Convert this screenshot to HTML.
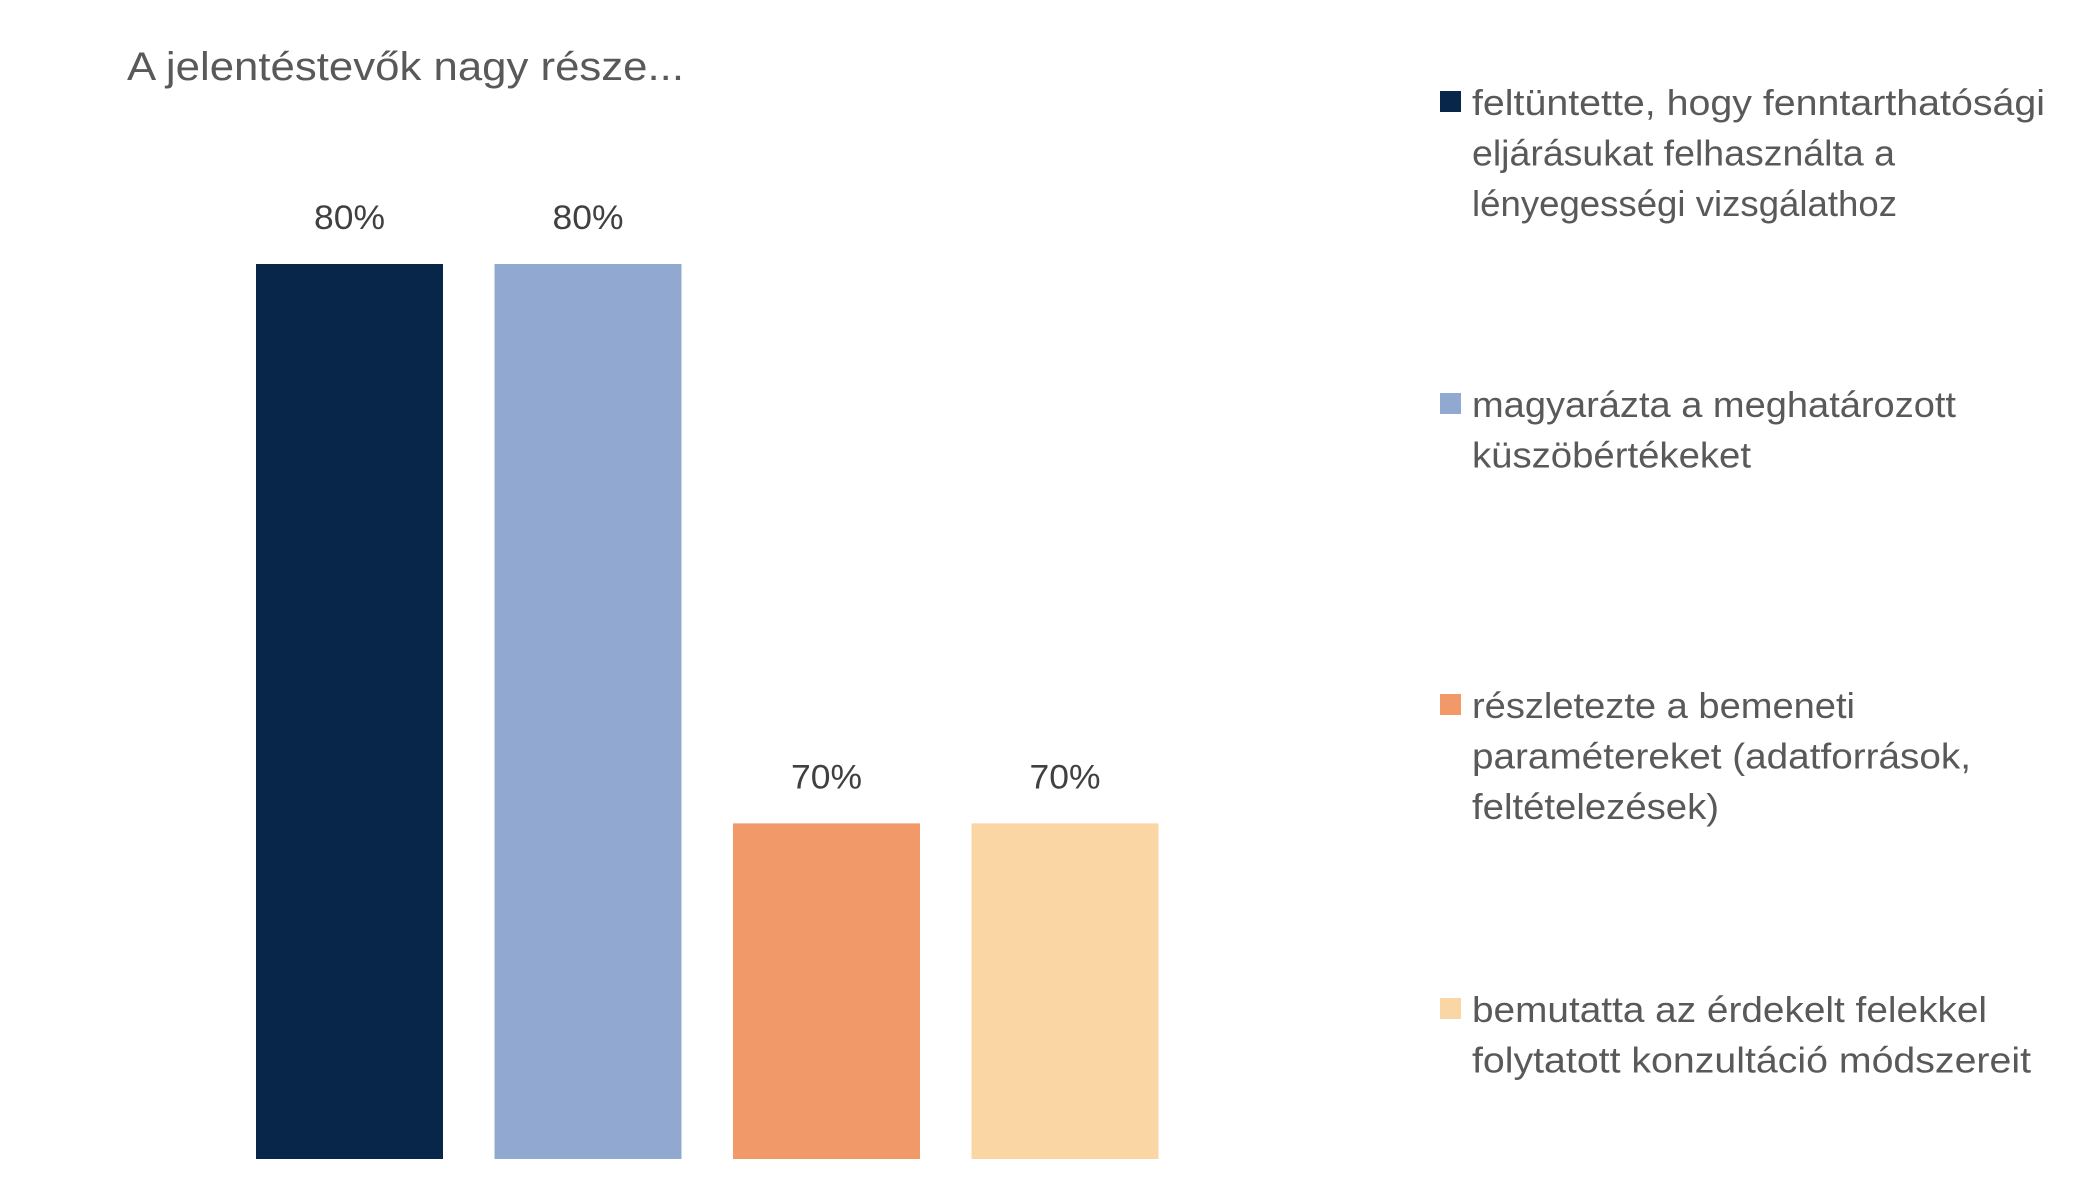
<!DOCTYPE html>
<html><head><meta charset="utf-8"><style>
html,body{margin:0;padding:0;background:#fff;}
svg{display:block;font-family:"Liberation Sans",sans-serif;}
</style></head><body>
<svg id="chart" width="2079" height="1204">
<text x="127" y="80" font-size="40" fill="#595959" textLength="557" lengthAdjust="spacingAndGlyphs">A jelentéstevők nagy része...</text>
<g id="bars"></g>
<g id="legend"></g>
</svg>
<script>
const categories = ["feltüntette, hogy fenntarthatósági eljárásukat felhasználta a lényegességi vizsgálathoz","magyarázta a meghatározott küszöbértékeket","részletezte a bemeneti paraméterek (adatforrások, feltételezések)","bemutatta az érdekelt felekkel folytatott konzultáció módszereit"];
const values = [0.80, 0.80, 0.70, 0.70];
const valueLabels = ["80%","80%","70%","70%"];
const legendLines = [["feltüntette, hogy fenntarthatósági","eljárásukat felhasználta a","lényegességi vizsgálathoz"],["magyarázta a meghatározott","küszöbértékeket"],["részletezte a bemeneti","paramétereket (adatforrások,","feltételezések)"],["bemutatta az érdekelt felekkel","folytatott konzultáció módszereit"]];
const colors = ["#08264a","#91a8d0","#f2996a","#fad6a5"];

const NS="http://www.w3.org/2000/svg";
const yMin=0.64, yMax=0.80, pxTop=264, pxBase=1159;
function y(v){return pxBase-(v-yMin)/(yMax-yMin)*(pxBase-pxTop);}
const x0=256, step=238.5, bw=187;
function x(i){return x0+i*step;}
const bars=document.getElementById('bars');
values.forEach((v,i)=>{
  const r=document.createElementNS(NS,'rect');
  r.setAttribute('x',x(i));r.setAttribute('y',y(v));
  r.setAttribute('width',bw);r.setAttribute('height',pxBase-y(v));
  r.setAttribute('fill',colors[i]);
  
  
  bars.appendChild(r);
  const t=document.createElementNS(NS,'text');
  t.setAttribute('x',x(i)+bw/2);t.setAttribute('y',y(v)-35);
  t.setAttribute('text-anchor','middle');t.setAttribute('font-size','34');
  t.setAttribute('fill','#404040');
  t.setAttribute('textLength','71');t.setAttribute('lengthAdjust','spacingAndGlyphs');
  t.textContent=valueLabels[i];
  
  
  bars.appendChild(t);
});
const lg=document.getElementById('legend');
const entryTop=[101,403,704,1008];
const widths=[[573,423,425],[484,279],[383,499,247],[515,559]];
legendLines.forEach((lines,i)=>{
  const g=document.createElementNS(NS,'g');
  
  
  const s=document.createElementNS(NS,'rect');
  s.setAttribute('x',1440);s.setAttribute('y',entryTop[i]-10);
  s.setAttribute('width',21);s.setAttribute('height',21);s.setAttribute('fill',colors[i]);
  
  
  g.appendChild(s);
  lines.forEach((ln,j)=>{
    const t=document.createElementNS(NS,'text');
    t.setAttribute('x',1472);t.setAttribute('y',entryTop[i]+14+j*50.5);
    t.setAttribute('font-size','36');t.setAttribute('fill','#595959');
    t.setAttribute('textLength',widths[i][j]);t.setAttribute('lengthAdjust','spacingAndGlyphs');
    t.textContent=ln;
    
    
    g.appendChild(t);
  });
  lg.appendChild(g);
});
</script>
</body></html>
